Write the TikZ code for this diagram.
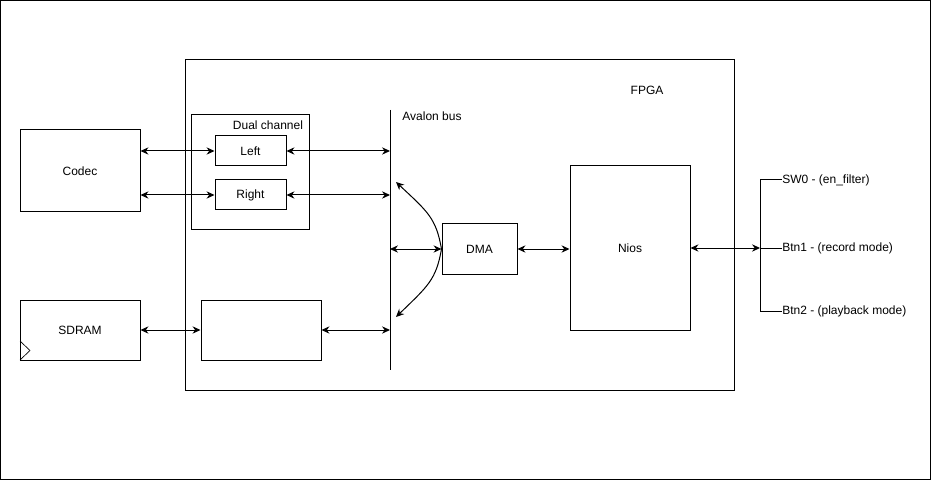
\documentclass[tikz,border=0pt]{standalone}
\usepackage{fontspec}
\setmainfont{Liberation Sans}
\usepackage{tikz}
\usetikzlibrary{arrows.meta}

\tikzset{
  blk/.style={draw, line width=0.75pt, inner sep=0pt, align=center},
  lnk/.style={line width=0.75pt, {Stealth[length=6pt,width=5.5pt,inset=2pt]}-{Stealth[length=6pt,width=5.5pt,inset=2pt]}},
  onearrow/.style={line width=0.75pt, -{Stealth[length=6pt,width=5.5pt,inset=2pt]}},
  lbl/.style={inner sep=0pt}
}

\begin{document}
\begin{tikzpicture}[x=0.75pt,y=-0.75pt,font=\fontsize{9}{11}\selectfont]
			\useasboundingbox (0,0) rectangle (932,481);
			\draw[line width=0.75pt] (0.5,0.5) rectangle (930.5,479.5);
			
			% fpga and its blocks
			\node[blk, minimum width=411.75pt, minimum height=247.5pt] (fpga) at (459.5,225) {};
			\node[lbl] (fpgalbl) at (647,90) {FPGA};
			\node[blk, minimum width=88.5pt, minimum height=86.25pt] (dual) at (250,172.5) {};
			\node[lbl] (duallbl) at (268,125) {Dual channel};
			\node[blk, minimum width=53.25pt, minimum height=22.5pt] (left) at (250.5,151) {Left};
			\node[blk, minimum width=53.25pt, minimum height=22.5pt] (right) at (250.5,195) {Right};
			\node[blk, minimum width=90pt, minimum height=45pt] (memctl) at (261,330) {};
			\node[blk, minimum width=56.25pt, minimum height=37.5pt] (dma) at (479.5,249) {DMA};
			\node[blk, minimum width=90pt, minimum height=123pt] (nios) at (630,248) {Nios};
			
			% outside blocks
			\node[blk, minimum width=90pt, minimum height=61.5pt] (codec) at (80,171) {Codec};
			\node[blk, minimum width=90pt, minimum height=45pt] (sdram) at (80,330) {SDRAM};
			\draw[line width=0.5pt] (20,341) -- (30,350.5) -- (20,360);
			
			% avalon bus
			\coordinate (bustop) at (390,110);
			\coordinate (busbot) at (390,370);
			\draw[line width=0.75pt] (bustop) -- (busbot);
			\node[lbl] (buslbl) at (432,116) {Avalon bus};
			
			\draw[lnk] (codec.east |- left.west) -- (left.west);
			\draw[lnk] (codec.east |- right.west) -- (right.west);
			\draw[lnk] (left.east) -- (left.east -| bustop);
			\draw[lnk] (right.east) -- (right.east -| bustop);
			\draw[lnk] (sdram.east) -- (memctl.west);
			\draw[lnk] (memctl.east) -- (memctl.east -| bustop);
			\draw[lnk] (dma.west -| bustop) -- (dma.west);
			\draw[lnk] (dma.east) -- (nios.west |- dma.east);
			
			% dma reaching along the bus
			\coordinate (dmaup) at (396,182);
			\coordinate (dmadown) at (396,317);
			\draw[onearrow] (dma.west) .. controls (436,218) and (428,212) .. (dmaup);
			\draw[onearrow] (dma.west) .. controls (436,280) and (428,286) .. (dmadown);
			
			% switches and buttons
			\coordinate (brk) at (760,248);
			\node[lbl, anchor=west] (sw) at (782,180) {SW0 - (en\_filter)};
			\node[lbl, anchor=west] (btnrec) at (782,248) {Btn1 - (record mode)};
			\node[lbl, anchor=west] (btnplay) at (782,311) {Btn2 - (playback mode)};
			\draw[line width=0.75pt] (sw.west) -- (sw.west -| brk) -- (btnplay.west -| brk) -- (btnplay.west);
			\draw[line width=0.75pt] (btnrec.west) -- (brk);
			\draw[lnk] (nios.east) -- (brk);
		\end{tikzpicture}
\end{document}
